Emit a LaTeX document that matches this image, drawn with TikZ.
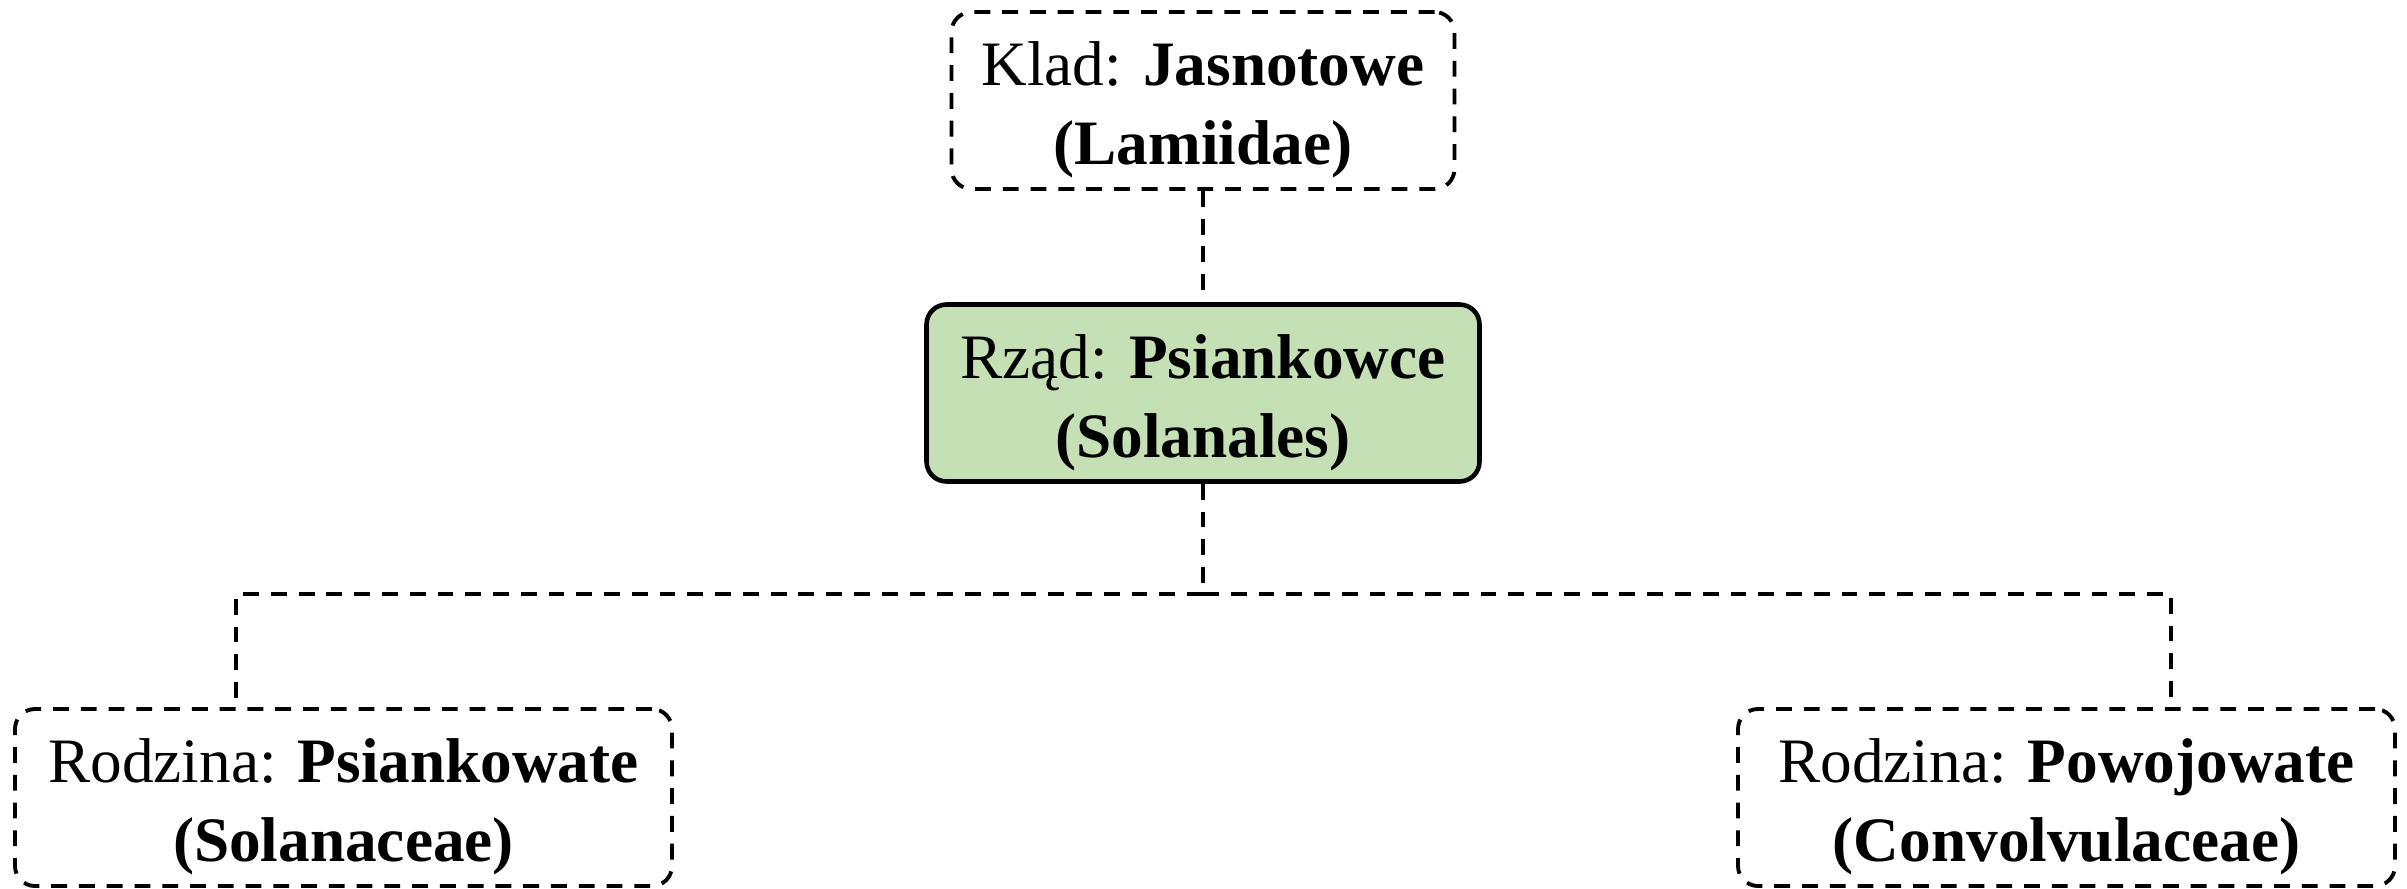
\documentclass[tikz,border=0pt]{standalone}
\usepackage{fontspec}
\setmainfont{Liberation Serif}
\definecolor{zielen}{HTML}{C5E0B4}
\tikzset{
  takson/.style={draw, dash pattern=on 4.5pt off 3.4pt, line width=1.1pt,
    rounded corners=0.2cm, align=center, minimum height=1.77cm, inner sep=0pt,
    font=\fontsize{18}{22.5}\selectfont},
  rzad/.style={takson, solid, line width=1.3pt, fill=zielen},
  lacznik/.style={dash pattern=on 4.5pt off 3.4pt, line width=1.1pt}
}
\begin{document}
\begin{tikzpicture}
      \useasboundingbox (0,0) rectangle (24.07,-8.89);
      \node[takson, minimum width=5.03cm] (klad) at (12.03,-1.005)
        {\rule{0pt}{18pt}Klad: \textbf{Jasnotowe}\\\textbf{(Lamiidae)}};
      \node[rzad, minimum width=5.53cm] (psiankowce) at (12.03,-3.93)
        {\rule{0pt}{18pt}Rząd: \textbf{Psiankowce}\\\textbf{(Solanales)}};
      \node[takson, minimum width=6.57cm] (psiankowate) at (3.435,-7.975)
        {\rule{0pt}{18pt}Rodzina: \textbf{Psiankowate}\\\textbf{(Solanaceae)}};
      \node[takson, minimum width=6.57cm] (powojowate) at (20.665,-7.975)
        {\rule{0pt}{18pt}Rodzina: \textbf{Powojowate}\\\textbf{(Convolvulaceae)}};
      \coordinate (rozgalezienie) at (12.03,-5.94);
      \coordinate (lewy) at (2.36,-7.09);
      \coordinate (prawy) at (21.71,-7.09);
      \begin{scope}[lacznik]
        \draw (klad) to (psiankowce);
        \draw (psiankowce) to (rozgalezienie);
        \draw (rozgalezienie) -| (lewy);
        \draw (rozgalezienie) -| (prawy);
      \end{scope}
    \end{tikzpicture}
\end{document}
